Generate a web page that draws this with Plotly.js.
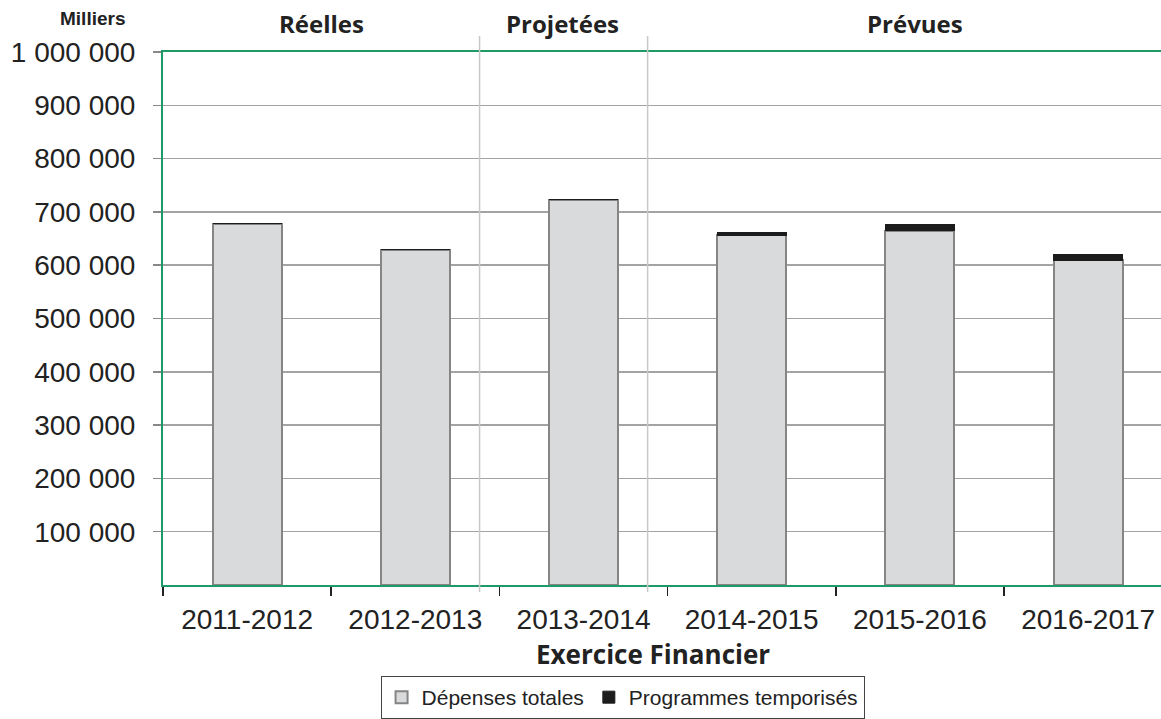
<!DOCTYPE html>
<html>
<head>
<meta charset="utf-8">
<script src="https://cdn.plot.ly/plotly-3.0.1.min.js"></script>
<style>html,body{margin:0;padding:0;background:#fff;}#chart{width:1161px;height:719px;}</style>
</head>
<body>
<div id="chart"></div>
<script>
const categories = ["2011-2012", "2012-2013", "2013-2014", "2014-2015", "2015-2016", "2016-2017"];
const depensesTotales = [678000, 629000, 723000, 656000, 665000, 609000];
const programmesTemporises = [0, 0, 0, 6000, 12000, 12000];
const yTickValues = [100000, 200000, 300000, 400000, 500000, 600000, 700000, 800000, 900000, 1000000];
const yTickLabels = ["100 000", "200 000", "300 000", "400 000", "500 000", "600 000", "700 000", "800 000", "900 000", "1 000 000"];
const periodLabels = ["Réelles", "Projetées", "Prévues"];

const traces = [
  {
    type: "bar", name: "Dépenses totales", x: categories, y: depensesTotales,
    width: 0.41,
    marker: {color: "#d9dadc", line: {color: "#858585", width: 2}}
  },
  {
    type: "bar", name: "Programmes temporisés", x: categories, y: programmesTemporises,
    width: 0.41,
    marker: {color: "#1c1c1c", line: {color: "#1c1c1c", width: 1}}
  }
];

const sepY0 = -0.013, sepY1 = 1.03;
const layout = {
  width: 1161, height: 719,
  margin: {l: 163, r: 0, t: 52, b: 133},
  paper_bgcolor: "#ffffff", plot_bgcolor: "#ffffff",
  barmode: "stack",
  font: {family: "Liberation Sans, Arial, sans-serif", color: "#222222"},
  showlegend: true,
  legend: {
    orientation: "h", traceorder: "normal",
    x: 0.218, xanchor: "left", y: -0.17, yanchor: "top",
    bordercolor: "#444444", borderwidth: 1,
    font: {size: 21, family: "Liberation Sans, Arial, sans-serif", color: "#222"},
    itemwidth: 30, tracegroupgap: 0
  },
  xaxis: {
    type: "category", range: [-0.5, 5.433],
    showline: true, linecolor: "#1f9a66", linewidth: 2, mirror: true,
    showgrid: false, zeroline: false,
    ticks: "outside", tickson: "boundaries", ticklen: 9, tickcolor: "#222", tickwidth: 1.5,
    tickfont: {size: 28, color: "#222"},
    ticklabelstandoff: 8,
    fixedrange: true
  },
  yaxis: {
    range: [0, 1000000],
    tickvals: yTickValues, ticktext: yTickLabels,
    showline: true, linecolor: "#1f9a66", linewidth: 2,
    showgrid: true, gridcolor: "#a3a3a3", gridwidth: 1.5,
    zeroline: false,
    ticks: "outside", ticklen: 8, tickcolor: "#888", tickwidth: 1.5,
    tickfont: {size: 28, color: "#222"},
    ticklabelstandoff: 12,
    fixedrange: true
  },
  shapes: [
    {type: "line", xref: "x", yref: "paper", x0: 1.382, x1: 1.382, y0: sepY0, y1: sepY1,
     line: {color: "#c8c8c8", width: 1.5}},
    {type: "line", xref: "x", yref: "paper", x0: 2.381, x1: 2.381, y0: sepY0, y1: sepY1,
     line: {color: "#c8c8c8", width: 1.5}}
  ],
  annotations: [
    {text: "<b>Milliers</b>", xref: "paper", yref: "paper", x: -0.071, y: 1.062,
     xanchor: "center", yanchor: "middle", showarrow: false,
     font: {size: 19, family: "Liberation Sans, Arial, sans-serif", color: "#222"}},
    {text: "<b>" + periodLabels[0] + "</b>", xref: "x", yref: "paper", x: 0.443, y: 1.054,
     xanchor: "center", yanchor: "middle", showarrow: false,
     font: {size: 24, family: "Open Sans, sans-serif", color: "#222"}},
    {text: "<b>" + periodLabels[1] + "</b>", xref: "x", yref: "paper", x: 1.876, y: 1.054,
     xanchor: "center", yanchor: "middle", showarrow: false,
     font: {size: 24, family: "Open Sans, sans-serif", color: "#222"}},
    {text: "<b>" + periodLabels[2] + "</b>", xref: "x", yref: "paper", x: 3.968, y: 1.054,
     xanchor: "center", yanchor: "middle", showarrow: false,
     font: {size: 24, family: "Open Sans, sans-serif", color: "#222"}},
    {text: "<b>Exercice Financier</b>", xref: "x", yref: "paper", x: 2.41, y: -0.13,
     xanchor: "center", yanchor: "middle", showarrow: false,
     font: {size: 26, family: "Open Sans, sans-serif", color: "#222"}}
  ]
};

Plotly.newPlot("chart", traces, layout, {displayModeBar: false, staticPlot: true});
</script>
</body>
</html>
